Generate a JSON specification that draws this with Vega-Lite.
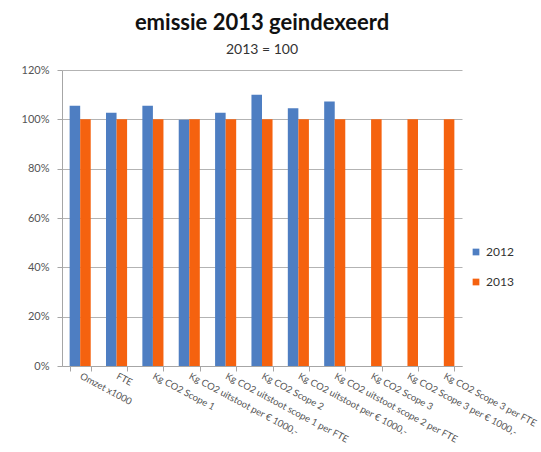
{
  "$schema": "https://vega.github.io/schema/vega-lite/v6.json",
  "autosize": {"type": "none"},
  "padding": {"left": 62, "top": 70, "right": 79, "bottom": 86},
  "width": 400,
  "height": 296,
  "background": "white",
  "config": {"font": "Lato", "view": {"stroke": null}},
  "title": {
    "text": "emissie 2013 geindexeerd",
    "subtitle": "2013 = 100",
    "fontSize": 22,
    "fontWeight": "bold",
    "color": "#111111",
    "subtitleFontSize": 14,
    "subtitleColor": "#333333",
    "subtitlePadding": 8,
    "anchor": "middle",
    "offset": 6
  },
  "data": {
    "values": [
      {"cat": "Omzet x1000", "year": "2012", "v": 1.055},
      {"cat": "Omzet x1000", "year": "2013", "v": 1.0},
      {"cat": "FTE", "year": "2012", "v": 1.027},
      {"cat": "FTE", "year": "2013", "v": 1.0},
      {"cat": "Kg CO2 Scope 1", "year": "2012", "v": 1.055},
      {"cat": "Kg CO2 Scope 1", "year": "2013", "v": 1.0},
      {"cat": "Kg CO2 uitstoot per € 1000,-", "year": "2012", "v": 0.998},
      {"cat": "Kg CO2 uitstoot per € 1000,-", "year": "2013", "v": 1.0},
      {"cat": "Kg CO2 uitstoot scope 1 per FTE", "year": "2012", "v": 1.027},
      {"cat": "Kg CO2 uitstoot scope 1 per FTE", "year": "2013", "v": 1.0},
      {"cat": "Kg CO2 Scope 2", "year": "2012", "v": 1.10},
      {"cat": "Kg CO2 Scope 2", "year": "2013", "v": 1.0},
      {"cat": "Kg CO2 uitstoot per € 1000,- ", "year": "2012", "v": 1.045},
      {"cat": "Kg CO2 uitstoot per € 1000,- ", "year": "2013", "v": 1.0},
      {"cat": "Kg CO2 uitstoot scope 2 per FTE", "year": "2012", "v": 1.072},
      {"cat": "Kg CO2 uitstoot scope 2 per FTE", "year": "2013", "v": 1.0},
      {"cat": "Kg CO2 Scope 3", "year": "2013", "v": 1.0},
      {"cat": "Kg CO2 Scope 3 per € 1000,-", "year": "2013", "v": 1.0},
      {"cat": "Kg CO2 Scope 3 per FTE", "year": "2013", "v": 1.0}
    ]
  },
  "mark": {"type": "bar"},
  "encoding": {
    "x": {
      "field": "cat",
      "type": "nominal",
      "sort": null,
      "title": null,
      "scale": {"paddingInner": 0.42, "paddingOuter": 0.21},
      "axis": {
        "labelAngle": 28,
        "labelAlign": "left",
        "labelBaseline": "middle",
        "labelFontSize": 9.5,
        "labelColor": "#555555",
        "labelPadding": 4,
        "labelOffset": 0,
        "domainColor": "#a6a6a6",
        "tickColor": "#a6a6a6",
        "ticks": true,
        "tickSize": 5,
        "tickBand": "extent",
        "labelLimit": 200
      }
    },
    "xOffset": {"field": "year", "type": "nominal"},
    "y": {
      "field": "v",
      "type": "quantitative",
      "title": null,
      "scale": {"domain": [0, 1.2], "nice": false},
      "axis": {
        "format": ".0%",
        "values": [0, 0.2, 0.4, 0.6, 0.8, 1.0, 1.2],
        "labelFontSize": 11,
        "labelColor": "#555555",
        "labelPadding": 8,
        "gridColor": "#b3b3b3",
        "gridWidth": 1,
        "domainColor": "#a6a6a6",
        "ticks": true,
        "tickSize": 5,
        "tickColor": "#a6a6a6"
      }
    },
    "color": {
      "field": "year",
      "type": "nominal",
      "title": null,
      "scale": {"domain": ["2012", "2013"], "range": ["#4E7EC2", "#F5620F"]},
      "legend": {
        "orient": "none",
        "legendX": 408,
        "legendY": 176,
        "symbolType": "square",
        "symbolSize": 45,
        "labelFontSize": 12,
        "labelColor": "#333333",
        "rowPadding": 18,
        "symbolStrokeWidth": 0
      }
    }
  }
}
